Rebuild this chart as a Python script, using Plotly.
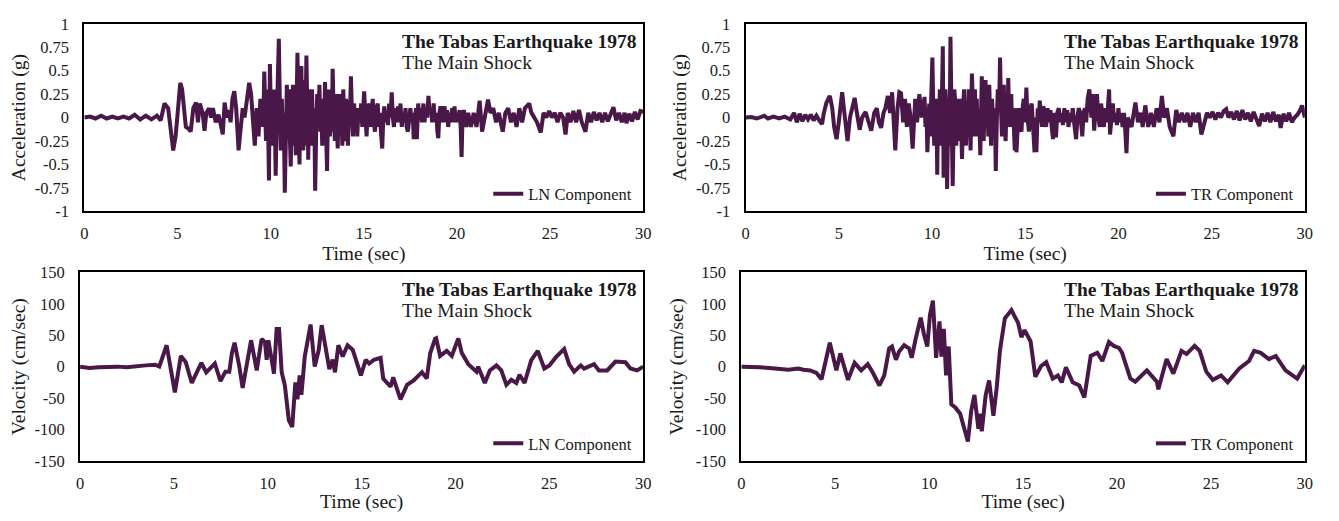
import plotly.graph_objects as go

# ---------------- data ----------------
t_acc_ln = [0, 0.3, 0.6, 0.9, 1.2, 1.5, 1.8, 2.1, 2.4, 2.7, 3.0, 3.3, 3.6, 3.9, 4.1,
            4.3, 4.5, 4.6, 4.77, 4.9, 5.05, 5.15, 5.25, 5.35, 5.45, 5.6, 5.71, 5.85, 6.0, 6.1,
            6.2, 6.35, 6.45, 6.55, 6.7, 6.8, 6.9, 7.05, 7.2, 7.35, 7.43, 7.53, 7.65, 7.75, 7.85,
            7.95, 8.05, 8.15, 8.28, 8.4, 8.5, 8.6, 8.7, 8.85, 8.95, 9.05, 9.15, 9.25, 9.35,
            9.45, 9.5, 9.55, 9.6, 9.66, 9.7, 9.75, 9.8, 9.85, 9.88, 9.91, 9.96, 10.0, 10.05, 10.1,
            10.15, 10.2, 10.27, 10.32, 10.37, 10.44, 10.5, 10.55, 10.6, 10.65, 10.7, 10.76, 10.82,
            10.87, 10.92, 10.97, 11.03, 11.08, 11.14, 11.2, 11.25, 11.3, 11.35, 11.44, 11.5, 11.55,
            11.6, 11.65, 11.7, 11.75, 11.8, 11.85, 11.92, 11.97, 12.02, 12.07, 12.12, 12.17, 12.22,
            12.28, 12.34, 12.39, 12.45, 12.5, 12.56, 12.62, 12.67, 12.72, 12.77, 12.82, 12.87,
            12.92, 12.98, 13.03, 13.08, 13.13, 13.18, 13.23, 13.28, 13.33, 13.39, 13.45, 13.5,
            13.55, 13.6, 13.65, 13.7, 13.75, 13.8, 13.85, 13.9, 13.95, 14.0, 14.05, 14.1, 14.15,
            14.2, 14.25, 14.31, 14.37, 14.42, 14.48, 14.55, 14.6,
            14.65, 14.72, 14.8, 14.86, 14.92, 15.02, 15.08, 15.15, 15.22, 15.3, 15.36, 15.42, 15.48,
            15.54, 15.6, 15.67, 15.75, 15.8, 15.86, 15.92, 15.99, 16.05, 16.1, 16.16, 16.22, 16.3,
            16.36, 16.43, 16.5, 16.56, 16.62, 16.7, 16.77, 16.84, 16.9, 16.97, 17.04, 17.1, 17.17,
            17.24, 17.3, 17.37, 17.44, 17.5, 17.57, 17.63, 17.68, 17.74, 17.8, 17.85, 17.92, 17.98,
            18.05, 18.12, 18.2, 18.26, 18.33, 18.4, 18.47, 18.53, 18.6, 18.67, 18.75, 18.82, 18.9,
            18.95, 19.0, 19.06, 19.12, 19.2, 19.27, 19.34, 19.4, 19.47, 19.53, 19.6, 19.67, 19.74,
            19.8, 19.87, 19.94, 20.0, 20.07, 20.14, 20.2, 20.25, 20.3, 20.37,
            20.5, 20.6, 20.75, 20.9, 21.05, 21.22, 21.35, 21.5,
            21.67, 21.8, 21.95, 22.1, 22.25, 22.35, 22.46, 22.6, 22.75, 22.9, 23.05, 23.2, 23.35,
            23.5, 23.65, 23.88, 24.0, 24.15, 24.3, 24.5, 24.65, 24.8, 24.95, 25.1, 25.25, 25.4,
            25.55, 25.7, 25.83, 25.95, 26.1, 26.25, 26.4, 26.55, 26.7, 26.9, 27.05, 27.2, 27.35,
            27.5, 27.65, 27.8, 27.95, 28.1, 28.25, 28.4, 28.55, 28.7, 28.85, 29.0, 29.1, 29.25,
            29.4, 29.55, 29.7, 29.85, 30.0]
acc_ln = [0, 0.01, -0.01, 0.02, -0.01, 0.01, -0.01, 0.01, -0.01, 0.03, -0.02, 0.02, -0.02, 0.02, -0.03,
          0.15, 0.1, -0.05, -0.35, -0.2, 0.1, 0.37, 0.3, 0.05, -0.1, -0.12, -0.15, 0.1, 0.16, -0.05,
          0.15, 0.05, -0.14, 0.05, 0.1, 0.0, 0.1, -0.05, 0.03, -0.1, -0.18, 0.16, 0.0, 0.08, -0.05,
          0.2, 0.28, 0.1, -0.35, -0.1, 0.1, 0.0, 0.15, 0.37, 0.25, -0.1, -0.3, 0.1, -0.2,
          0.2, -0.05, 0.15, -0.1, 0.49, 0.1, -0.25, 0.2, 0.3, -0.3, -0.67, 0.57, 0.2, -0.3, 0.25,
          -0.1, 0.3, -0.62, -0.1, 0.45, 0.84, 0.1, -0.35, 0.2, -0.2, 0.05, -0.8, -0.2,
          0.35, -0.1, 0.3, -0.2, -0.52, 0.1, 0.35, -0.3, 0.2, -0.4, 0.69, -0.1, -0.5,
          0.3, 0.55, -0.2, -0.35, 0.4, -0.3, 0.66, -0.2, -0.45, 0.3, 0.1, -0.3, 0.3,
          -0.2, 0.1, -0.78, -0.1, 0.25, -0.05, 0.35, -0.15, 0.1, -0.3, 0.2, -0.1,
          0.38, -0.2, -0.57, 0.1, 0.3, -0.2, 0.1, -0.15, 0.52, 0.0, -0.25, 0.25,
          -0.1, -0.33, 0.1, 0.25, -0.15, 0.05, -0.3, 0.3, -0.1, -0.25, 0.2, 0.05, -0.3,
          0.1, -0.05, 0.44, 0.0, -0.2, 0.15, -0.05, 0.1,
          -0.2, 0.1, 0.0, 0.15, -0.1, 0.28, 0.0, -0.2, 0.1, 0.15, -0.1, 0.05, 0.2,
          -0.05, -0.15, 0.1, 0.15, -0.1, 0.05, -0.15, -0.33, 0.0, 0.12, -0.05, 0.05, -0.08,
          0.15, 0.0, 0.27, 0.0, -0.1, 0.1, -0.05, 0.12, -0.05, 0.15, -0.1, 0.05, -0.05,
          0.1, -0.1, -0.15, 0.05, 0.1, -0.05, 0.05, -0.23, 0.05, 0.1, -0.23, 0.15, 0.0,
          0.1, -0.05, 0.15, -0.05, 0.1, 0.0, 0.23, 0.05, 0.1, -0.05, 0.15, -0.05, 0.05,
          -0.15, -0.22, 0.05, 0.12, -0.05, 0.05, 0.12, -0.05, 0.08, -0.1, 0.05, -0.05, 0.1,
          -0.05, 0.12, -0.05, 0.05, -0.05, 0.08, -0.1, -0.42, 0.0, 0.08,
          -0.1, 0.05, -0.1, 0.05, -0.1, 0.18, -0.15, 0.0,
          0.19, 0.05, 0.1, -0.05, 0.05, -0.05, -0.15, 0.05, 0.1, -0.05, 0.05, -0.1, 0.1,
          -0.05, 0.1, 0.15, 0.05, 0.0, -0.05, -0.16, 0.05, 0.0, 0.07, 0.0, 0.05, -0.05,
          0.05, 0.0, -0.18, 0.05, -0.05, 0.07, -0.05, 0.08, -0.05, -0.15, 0.05, -0.05, 0.06,
          -0.03, 0.05, -0.05, 0.05, -0.04, 0.04, 0.11, -0.03, 0.05, -0.05, 0.05, -0.06, 0.04,
          -0.04, 0.06, -0.02, 0.07, 0.06]

t_acc_tr = [0, 0.3, 0.6, 0.9, 1.0, 1.2, 1.5, 1.8, 2.1, 2.4, 2.6, 2.75, 2.9, 3.05, 3.2, 3.35, 3.5,
            3.65, 3.8, 3.95, 4.1, 4.2, 4.34, 4.52, 4.65, 4.75, 4.88, 5.0, 5.18, 5.3, 5.47, 5.6,
            5.72, 5.85, 5.97, 6.12, 6.25, 6.44, 6.6, 6.74, 6.9, 7.04, 7.15, 7.27, 7.4, 7.5, 7.63,
            7.75, 7.86, 7.95, 8.03, 8.15, 8.25, 8.34, 8.45, 8.55, 8.65, 8.75, 8.85, 8.96, 9.1,
            9.2, 9.32, 9.45,
            9.6, 9.65, 9.7, 9.75, 9.8, 9.85, 9.9, 9.96, 10.02, 10.07, 10.12, 10.16, 10.2, 10.24,
            10.28, 10.33, 10.37, 10.42, 10.47, 10.52, 10.58, 10.62, 10.67, 10.72, 10.77, 10.81,
            10.86, 10.9, 10.94, 10.99, 11.05, 11.11, 11.16, 11.2, 11.25, 11.3, 11.35, 11.4, 11.45,
            11.5, 11.56, 11.61, 11.67, 11.72, 11.77, 11.82, 11.87, 11.92, 11.97, 12.02, 12.07,
            12.14, 12.2, 12.25, 12.3, 12.35, 12.4, 12.45, 12.52, 12.59, 12.67, 12.72, 12.77, 12.82,
            12.87, 12.92, 12.97, 13.02, 13.07, 13.12, 13.17, 13.22, 13.27, 13.32, 13.37, 13.42,
            13.48, 13.53, 13.6, 13.65, 13.7, 13.75, 13.8, 13.85, 13.9, 13.95, 14.0, 14.05, 14.09,
            14.15, 14.2, 14.25, 14.3, 14.35, 14.44, 14.5, 14.53, 14.6,
            14.65, 14.72, 14.8, 14.86, 14.92, 15.0, 15.06, 15.12, 15.2, 15.27, 15.35, 15.42, 15.5,
            15.55, 15.6, 15.67, 15.72, 15.78, 15.85, 15.9, 15.97, 16.05, 16.12, 16.2, 16.27, 16.35,
            16.42, 16.49, 16.55, 16.6, 16.65, 16.72, 16.8, 16.87, 16.95, 17.02, 17.1, 17.17, 17.25,
            17.32, 17.4, 17.47, 17.55, 17.62, 17.73, 17.8, 17.87, 17.95, 18.0, 18.06, 18.13, 18.2,
            18.27, 18.35, 18.44, 18.5, 18.55, 18.62, 18.7, 18.77, 18.85, 18.92, 19.0, 19.07, 19.15,
            19.22, 19.3, 19.37, 19.45, 19.5, 19.55, 19.62, 19.7, 19.77, 19.85, 19.92, 20.0, 20.07,
            20.15, 20.22, 20.3, 20.37, 20.43, 20.5,
            20.7, 20.91, 21.05, 21.2, 21.3, 21.44, 21.6, 21.75,
            21.9, 22.05, 22.2, 22.33, 22.45, 22.6, 22.75, 22.95, 23.1, 23.25, 23.4, 23.55, 23.7,
            23.85, 24.0, 24.15, 24.3, 24.45, 24.6, 24.75, 24.9, 25.05, 25.2, 25.35, 25.5, 25.65,
            25.78, 25.9, 26.05, 26.2, 26.35, 26.5, 26.65, 26.8, 26.95, 27.1, 27.25, 27.4, 27.55,
            27.7, 27.85, 28.0, 28.15, 28.3, 28.45, 28.6, 28.7, 28.85, 29.0, 29.15, 29.3, 29.45,
            29.6, 29.75, 29.85, 30.0]
acc_tr = [0, 0.005, -0.01, 0.005, 0.02, -0.01, 0.01, -0.01, 0.01, -0.02, 0.05, -0.05, 0.04, -0.04, 0.03, -0.02, 0.03,
          -0.03, 0.02, -0.03, -0.07, 0.05, 0.16, 0.23, 0.1, -0.1, -0.23, -0.05, 0.27, 0.05, -0.25, 0.0,
          0.1, 0.21, 0.05, -0.13, 0.0, 0.06, -0.05, -0.14, 0.05, 0.1, -0.05, -0.11, 0.05, 0.1, 0.23,
          0.05, 0.27, 0.0, -0.35, 0.1, 0.27, 0.26, -0.05, 0.2, -0.1, 0.15, 0.0, -0.33, 0.2,
          -0.05, 0.25, 0.0,
          0.22, -0.1, 0.1, -0.37, -0.1, 0.15, -0.2, 0.2, 0.64, 0.1, -0.3, 0.2, -0.2, 0.1,
          -0.61, 0.2, -0.1, 0.3, -0.3, 0.1, 0.76, -0.64, -0.2, 0.3, 0.1, -0.76,
          -0.1, 0.2, -0.3, 0.86, 0.0, -0.73, -0.1, 0.3, 0.15, -0.3, 0.0, 0.2, -0.25,
          0.2, -0.1, -0.44, 0.1, 0.3, -0.1, -0.3, 0.15, -0.1, 0.3, -0.2, -0.35,
          0.47, 0.1, -0.2, 0.3, -0.05, 0.2, -0.2, 0.1, -0.4, 0.44, 0.0, -0.25, 0.1,
          0.4, -0.1, 0.2, -0.2, 0.35, 0.0, -0.3, 0.2, 0.0, -0.2, 0.1, -0.57,
          0.0, 0.3, 0.1, 0.64, 0.1, -0.2, 0.2, 0.35, -0.1, -0.25, 0.2, 0.0, 0.42,
          -0.1, 0.1, 0.25, -0.1, 0.1, -0.35, 0.1, -0.37, 0.0,
          0.1, -0.1, -0.15, 0.1, 0.2, -0.05, 0.32, 0.0, -0.15, 0.1, 0.15, -0.1, -0.37,
          0.0, -0.37, 0.1, -0.05, 0.18, 0.0, -0.1, 0.12, 0.05, -0.1, 0.1, -0.05, 0.08,
          -0.1, -0.23, 0.05, -0.05, -0.21, 0.05, 0.1, -0.05, 0.05, -0.08, 0.1, -0.05, 0.08,
          -0.1, 0.05, -0.05, 0.1, -0.05, -0.23, 0.0, 0.1, 0.05, -0.1, -0.2, 0.05, 0.1,
          -0.05, 0.2, 0.3, 0.1, 0.0, 0.25, -0.14, 0.1, 0.25, 0.0, -0.1, 0.15, 0.05,
          -0.1, 0.1, -0.05, 0.15, 0.3, -0.18, 0.05, 0.15, -0.05, 0.05, -0.08, 0.1, -0.05,
          0.05, -0.1, 0.05, -0.15, -0.38, 0.0,
          -0.1, 0.16, -0.05, 0.05, -0.1, 0.13, -0.1, 0.05,
          -0.1, 0.1, -0.05, 0.23, 0.0, 0.1, -0.1, -0.2, 0.08, -0.05, 0.05, -0.05, 0.05,
          -0.1, 0.05, -0.05, 0.05, -0.18, -0.05, 0.05, 0.0, 0.06, -0.02, 0.05, 0.0, 0.07,
          0.09, 0.0, 0.06, -0.02, 0.07, -0.03, 0.08, -0.02, 0.05, -0.04, 0.06, -0.03, -0.09,
          0.04, -0.04, 0.05, -0.05, 0.06, -0.04, 0.03, -0.11, 0.04, -0.04, 0.05, -0.05, 0.0,
          0.03, 0.08, 0.13, 0.0]

t_vel_ln = [0, 0.5, 1.0, 1.5, 2.0, 2.5, 3.0, 3.5, 4.0, 4.22, 4.61, 5.05, 5.37, 5.63, 5.95, 6.25,
            6.46, 6.72, 7.18, 7.48, 7.74, 7.95, 8.09, 8.23, 8.48, 8.66, 9.11, 9.41, 9.67, 9.85,
            9.94, 10.03, 10.2, 10.33, 10.47, 10.6, 10.74, 10.91, 11.12, 11.3, 11.47, 11.58, 11.7,
            11.79, 11.97, 12.28, 12.5, 12.71, 12.87, 13.11, 13.28, 13.46, 13.58, 13.76, 13.99,
            14.25, 14.52, 14.65, 14.96, 15.22, 15.4, 15.66, 16.01, 16.15, 16.54,
            16.68, 17.07, 17.42, 17.77, 18.0, 18.21, 18.47, 18.65, 18.91, 18.97, 19.18, 19.53,
            19.8, 20.15, 20.33, 20.68, 21.12, 21.21, 21.56, 21.83, 22.18, 22.44, 22.71, 22.97,
            23.24, 23.41, 23.68, 24.03, 24.38, 24.73, 25.0, 25.35, 25.79, 26.05, 26.32, 26.67,
            26.85, 27.38, 27.64, 28.08, 28.52, 29.05, 29.32, 29.67, 30.0]
vel_ln = [0, -2, -1, 0, 0, -1, 1, 2, 3, 0, 34, -41, 17, 7, -26, -8,
          6, -9, 5, -23, -8, -8, 22, 38, 1, -34, 42, -6, 44, 39,
          11, 42, 11, -11, 60, 60, -9, -30, -85, -96, -25, -52, -14,
          -45, 16, 67, 0, 26, 66, 29, -4, 11, -9, 34, 16,
          34, 27, 15, -14, 11, 5, 11, 14, -19, -32,
          -17, -52, -29, -22, -15, -9, -19, 21, 44, 45, 17, 25,
          17, 45, 22, 4, -8, 0, -26, -6, 2, -6, -29, -21,
          -26, -13, -26, 10, 25, -3, 2, 15, 28, 4, -8, 2,
          -3, 4, -6, -6, 8, 7, -3, -6, 0]

t_vel_tr = [0, 0.5, 1.0, 1.5, 2.0, 2.5, 3.04, 3.3, 3.66, 4.0, 4.27, 4.71, 5.06, 5.27, 5.68, 6.03,
            6.38, 6.73, 6.99, 7.35, 7.61, 7.87, 8.02, 8.23, 8.4, 8.67, 8.93, 9.07, 9.28, 9.55,
            9.72, 9.9, 10.04, 10.2, 10.37, 10.55, 10.65, 10.78, 10.9, 11.04, 11.18, 11.39, 11.65,
            11.92, 12.06, 12.24, 12.41, 12.62, 12.71, 12.8, 13.01, 13.19, 13.42, 13.59, 13.77,
            14.03, 14.38, 14.55, 14.73, 14.91, 15.08, 15.4, 15.65, 15.96, 16.23, 16.58, 16.85, 17.06,
            17.28, 17.64, 17.99, 18.26, 18.6, 18.95, 19.22, 19.57, 19.83, 20.1, 20.27, 20.71,
            20.97, 21.59, 22.12, 22.2, 22.64, 23.0, 23.43, 23.7, 24.13, 24.4, 24.75, 25.1,
            25.54, 25.89, 26.51, 27.03, 27.3, 27.65, 28.09, 28.45, 28.97, 29.59, 30.0]
vel_tr = [0, 0, -1, -2, -3, -5, -3, -5, -6, -10, -20, 38, -6, 21, -21, 6,
          -6, 4, -9, -30, -14, 29, 32, 11, 24, 34, 29, 14, 44, 78,
          52, 32, 82, 105, 14, 72, 16, 60, -14, 32, -60, -65, -75,
          -103, -119, -70, -45, -99, -75, -103, -45, -22, -78, -35, 26,
          77, 90, 80, 70, 47, 58, 40, -16, 1, 7, -19, -14, -25,
          -1, -25, -30, -49, 17, 22, 9, 39, 33, 30, 22, -19,
          -24, -6, -24, -36, 12, -11, 25, 20, 33, 25, -8, -21,
          -14, -25, -3, 9, 25, 22, 12, 17, -6, -19, 2]

x_ticks = [0, 5, 10, 15, 20, 25, 30]
acc_ticks = [-1, -0.75, -0.5, -0.25, 0, 0.25, 0.5, 0.75, 1]
acc_ticktext = ["-1", "-0.75", "-0.5", "-0.25", "0", "0.25", "0.5", "0.75", "1"]
vel_ticks = [-150, -100, -50, 0, 50, 100, 150]
vel_ticktext = ["-150", "-100", "-50", "0", "50", "100", "150"]

title_line1 = "<b>The Tabas Earthquake 1978</b>"
title_line2 = "The Main Shock"

# ---------------- styling ----------------
# The page body keeps its default 8px margin, so the figure is sized to fit
# the 1339x521 window exactly and page pixels are mapped through that offset.
VW, VH, BM = 1339, 521, 8
W, H = VW - 2 * BM, VH - 2 * BM
LINE = "#4a1848"
FONT = "Liberation Serif"
TXT = "#1a1a1a"

def px_x(p):
    return (p - BM) / W

def px_y(p):
    return 1 - (p - BM) / H

panels = [
    ("x", "y", (81, 645), (15, 210), t_acc_ln, acc_ln, "LN Component", "acc"),
    ("x2", "y2", (748.3, 1312.7), (15, 210), t_acc_tr, acc_tr, "TR Component", "acc"),
    ("x3", "y3", (76.7, 645), (273.3, 469.3), t_vel_ln, vel_ln, "LN Component", "vel"),
    ("x4", "y4", (744, 1312.7), (273.3, 469.3), t_vel_tr, vel_tr, "TR Component", "vel"),
]

fig = go.Figure()
layout = dict(
    width=W, height=H,
    margin=dict(l=0, r=0, t=0, b=0),
    paper_bgcolor="white", plot_bgcolor="white",
    font=dict(family=FONT, size=16, color=TXT),
    annotations=[],
)

for i, (xa, ya, xd, yd, t, v, name, kind) in enumerate(panels):
    leg = "legend" if i == 0 else f"legend{i+1}"
    fig.add_trace(go.Scatter(
        x=t, y=v, mode="lines", name=name,
        line=dict(color=LINE, width=4),
        xaxis=xa, yaxis=ya, legend=leg, showlegend=True,
    ))
    xkey = "xaxis" if xa == "x" else "xaxis" + xa[1:]
    ykey = "yaxis" if ya == "y" else "yaxis" + ya[1:]
    layout[xkey] = dict(
        domain=[px_x(xd[0]), px_x(xd[1])], anchor=ya, range=[0, 30],
        tickvals=x_ticks, showgrid=False, zeroline=False,
        showline=True, mirror=True, linecolor="#000", linewidth=2,
        ticks="", ticklabelstandoff=6,
        tickfont=dict(family=FONT, size=16.5, color=TXT),
        title=dict(text="Time (sec)", font=dict(family=FONT, size=19.5, color=TXT), standoff=1),
    )
    if kind == "acc":
        yt, ytt, yr, ytitle, so = acc_ticks, acc_ticktext, [-1, 1], "Acceleration (g)", 4
    else:
        yt, ytt, yr, ytitle, so = vel_ticks, vel_ticktext, [-150, 150], "Velocity (cm/sec)", 7
    layout[ykey] = dict(
        domain=[px_y(yd[1]), px_y(yd[0])], anchor=xa, range=yr,
        tickvals=yt, ticktext=ytt, showgrid=False, zeroline=False,
        showline=True, mirror=True, linecolor="#000", linewidth=2,
        ticks="", ticklabelstandoff=10,
        tickfont=dict(family=FONT, size=16.5, color=TXT),
        title=dict(text=ytitle, font=dict(family=FONT, size=19.5, color=TXT), standoff=so),
    )
    layout[leg] = dict(
        x=px_x(xd[1] - 6), xanchor="right",
        y=px_y(yd[1] - 18), yanchor="middle",
        bgcolor="rgba(0,0,0,0)", borderwidth=0,
        font=dict(family=FONT, size=16.5, color=TXT),
    )
    for txt, dy in ((title_line1, 18), (title_line2, 40)):
        layout["annotations"].append(dict(
            text=txt, xref="paper", yref="paper",
            x=px_x(xd[1] - 245), xanchor="left",
            y=px_y(yd[0] + dy), yanchor="middle",
            showarrow=False,
            font=dict(family=FONT, size=19.5, color=TXT),
        ))

fig.update_layout(**layout)
fig.write_html("out.html", config={"displayModeBar": False})
